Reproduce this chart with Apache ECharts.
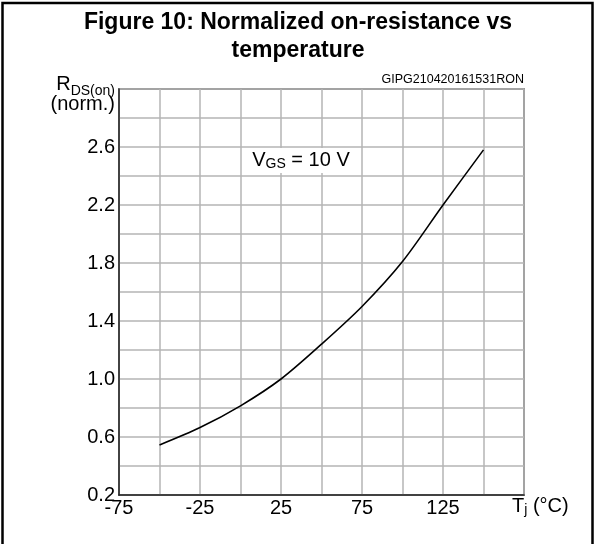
<!DOCTYPE html>
<html>
<head>
<meta charset="utf-8">
<script src="https://cdn.jsdelivr.net/npm/echarts@6/dist/echarts.min.js"></script>
<style>
html,body{margin:0;padding:0;background:#fff;}
#c{width:596px;height:544px;}
</style>
</head>
<body>
<div id="c"></div>
<script>
var temps = [-50, -25, 0, 25, 50, 75, 100, 125, 150];
var rdsOn = [0.545, 0.665, 0.815, 1.0, 1.24, 1.5, 1.81, 2.2, 2.58];
var xTickLabels = [-75, -25, 25, 75, 125];
var yTickLabels = ['0.2', '0.6', '1.0', '1.4', '1.8', '2.2', '2.6'];

var chart = echarts.init(document.getElementById('c'), null, {renderer: 'canvas'});
var F = 'Arial, "Liberation Sans", Helvetica, sans-serif';
var option = {
  backgroundColor: '#fff',
  animation: false,
  title: {
    text: 'Figure 10: Normalized on-resistance vs\ntemperature',
    left: 'center',
    top: 4,
    textStyle: {fontFamily: F, fontSize: 23, fontWeight: 'bold', color: '#000', lineHeight: 28}
  },
  grid: {left: 119, right: 72, top: 89, bottom: 49, show: true, borderColor: '#444', borderWidth: 1.5, backgroundColor: 'transparent'},
  xAxis: {
    type: 'value', min: -75, max: 175, interval: 25,
    axisLine: {show: true, onZero: false, lineStyle: {color: '#222', width: 1.5}},
    axisTick: {show: false},
    splitLine: {show: true, lineStyle: {color: '#b4b4b4', width: 1.5}},
    axisLabel: {
      fontFamily: F, fontSize: 20, color: '#000', margin: 3,
      formatter: function (v) { return xTickLabels.indexOf(Math.round(v)) >= 0 ? String(Math.round(v)) : ''; }
    }
  },
  yAxis: {
    type: 'value', min: 0.2, max: 3.0, interval: 0.2,
    axisLine: {show: true, onZero: false, lineStyle: {color: '#222', width: 1.5}},
    axisTick: {show: false},
    splitLine: {show: true, lineStyle: {color: '#b4b4b4', width: 1.5}},
    axisLabel: {
      fontFamily: F, fontSize: 20, color: '#000', margin: 4,
      formatter: function (v) { var s = v.toFixed(1); return yTickLabels.indexOf(s) >= 0 ? s : ''; }
    }
  },
  series: [{
    type: 'line',
    data: temps.map(function (t, i) { return [t, rdsOn[i]]; }),
    smooth: 0.3,
    symbol: 'none',
    lineStyle: {color: '#000', width: 1.6}
  }],
  graphic: [
    {type: 'rect', shape: {x: 2.5, y: 3, width: 590, height: 560}, style: {fill: 'none', stroke: '#000', lineWidth: 2.5}, z: 100},
    {type: 'text', right: 72, top: 73, style: {text: 'GIPG210420161531RON', font: '12.5px ' + F, fill: '#000'}},
    {type: 'text', x: 115, y: 94, style: {
      text: '{r|R}{s|DS(on)}\n{n|(norm.)}', align: 'right', verticalAlign: 'middle',
      rich: {r: {fontFamily: F, fontSize: 20, color: '#000', verticalAlign: 'bottom', lineHeight: 20},
             s: {fontFamily: F, fontSize: 14, color: '#000', verticalAlign: 'bottom', padding: [0, 0, -4, 0], lineHeight: 20},
             n: {fontFamily: F, fontSize: 20, color: '#000', lineHeight: 20}}
    }},
    {type: 'rect', shape: {x: 242, y: 148, width: 118, height: 25}, style: {fill: '#fff'}, z: 50},
    {type: 'text', x: 301, y: 160, z: 51, style: {
      text: '{v|V}{s|GS}{v| = 10 V}', align: 'center', verticalAlign: 'middle',
      rich: {v: {fontFamily: F, fontSize: 20, color: '#000'},
             s: {fontFamily: F, fontSize: 14, color: '#000', padding: [9, 0, 0, 0]}}
    }},
    {type: 'text', x: 512, y: 506, style: {
      text: '{v|T}{s|j}{v| (°C)}', verticalAlign: 'middle',
      rich: {v: {fontFamily: F, fontSize: 20, color: '#000'},
             s: {fontFamily: F, fontSize: 14, color: '#000', padding: [9, 0, 0, 0]}}
    }}
  ]
};
chart.setOption(option);
</script>
</body>
</html>
